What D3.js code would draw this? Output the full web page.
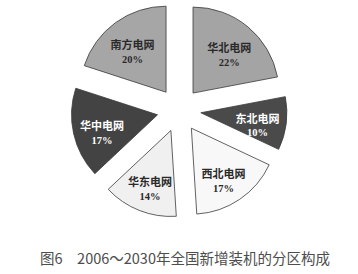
<!DOCTYPE html>
<html>
<head>
<meta charset="utf-8">
<script src="https://cdn.jsdelivr.net/npm/d3@7"></script>
<style>
  body { margin: 0; background: #fff; }
  svg { display: block; }
</style>
</head>
<body>
<div id="chart"></div>
<script>
const regions = ["华北电网", "东北电网", "西北电网", "华东电网", "华中电网", "南方电网"];
const shares = [22, 10, 17, 14, 17, 20];
const title = "图6　2006～2030年全国新增装机的分区构成";

const width = 358, height = 274;
const cx = 179, cy = 110, radius = 86, explode = 22;

// grey shades, one per region
const fills = d3.scaleOrdinal()
    .domain(regions)
    .range(["#a4a4a4", "#4a4a4a", "#f8f8f8", "#f0f0f0", "#434343", "#a6a6a6"]);
const textColor = d3.scaleOrdinal()
    .domain(regions)
    .range(["#2a2a2a", "#ffffff", "#2a2a2a", "#2a2a2a", "#ffffff", "#2a2a2a"]);

const svg = d3.select("#chart").append("svg")
    .attr("width", width)
    .attr("height", height);

const pie = d3.pie().sort(null).value(d => d.v);
const arcs = pie(regions.map((r, i) => ({ r: r, v: shares[i] })));

const arc = d3.arc().innerRadius(0).outerRadius(radius);
const shift = d3.arc().innerRadius(explode).outerRadius(explode);
const labelArc = d3.arc().innerRadius(57).outerRadius(57);

const g = svg.append("g").attr("transform", `translate(${cx},${cy})`);

const slice = g.selectAll("g.slice")
    .data(arcs)
    .enter().append("g")
        .attr("class", "slice")
        .attr("transform", d => {
            const [x, y] = shift.centroid(d);
            return `translate(${x},${y})`;
        });

slice.append("path")
    .attr("d", arc)
    .attr("fill", d => fills(d.data.r))
    .attr("stroke", "#3a3a3a")
    .attr("stroke-width", 0.8);

const label = slice.append("text")
    .attr("transform", d => {
        const [x, y] = labelArc.centroid(d);
        return `translate(${x},${y})`;
    })
    .attr("text-anchor", "middle")
    .attr("fill", d => textColor(d.data.r));

label.append("tspan")
    .attr("x", 0)
    .attr("y", 3)
    .attr("font-family", "'Noto Sans CJK SC', sans-serif")
    .attr("font-weight", "bold")
    .attr("font-size", 11)
    .text(d => d.data.r);

label.append("tspan")
    .attr("x", 0)
    .attr("y", 16.5)
    .attr("font-family", "'Liberation Serif', serif")
    .attr("font-weight", "bold")
    .attr("font-size", 10.5)
    .text(d => d.data.v + "%");

svg.append("text")
    .attr("x", 185)
    .attr("y", 264)
    .attr("text-anchor", "middle")
    .attr("font-family", "'Noto Sans CJK SC', sans-serif")
    .attr("font-size", 14.5)
    .attr("fill", "#4d4d4d")
    .text(title);
</script>
</body>
</html>
